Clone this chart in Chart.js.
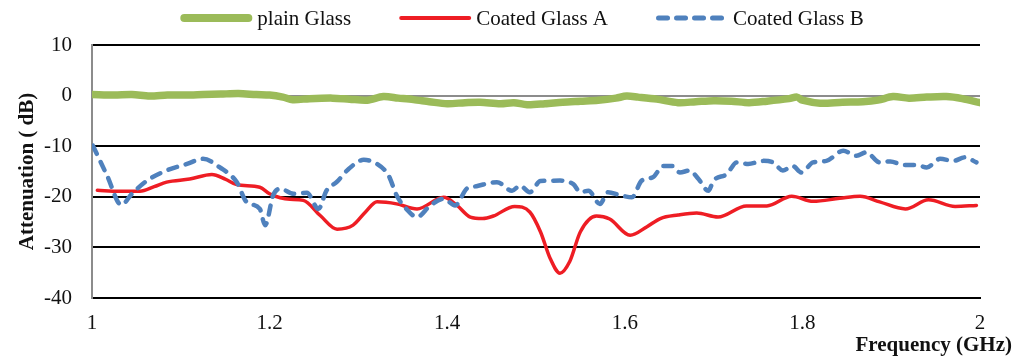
<!DOCTYPE html>
<html>
<head>
<meta charset="utf-8">
<title>Attenuation vs Frequency</title>
<script src="https://cdn.jsdelivr.net/npm/chart.js@4.4.1/dist/chart.umd.min.js"></script>
<style>
  html, body { margin: 0; padding: 0; background: #fff; }
  #wrap { width: 1014px; height: 358px; }
</style>
</head>
<body>
<div id="wrap"><canvas id="c" width="1014" height="358"></canvas></div>
<script>
// Frequency ticks (GHz) and attenuation ticks (dB)
const xTicks = [1, 1.2, 1.4, 1.6, 1.8, 2];
const yTicks = [10, 0, -10, -20, -30, -40];

// plain Glass
const plainFreq = [1.000,1.025,1.045,1.065,1.085,1.105,1.125,1.145,1.165,1.185,1.200,1.215,1.226,1.245,1.271,1.290,1.310,1.328,1.345,1.362,1.380,1.400,1.420,1.437,1.460,1.475,1.490,1.510,1.530,1.550,1.570,1.590,1.602,1.615,1.636,1.660,1.680,1.700,1.720,1.740,1.760,1.785,1.794,1.800,1.820,1.845,1.868,1.885,1.902,1.920,1.940,1.962,1.980,2.000];
const plainAtt  = [0.2,0.1,0.2,-0.1,0.1,0.1,0.2,0.3,0.4,0.2,0.1,-0.3,-0.8,-0.6,-0.5,-0.7,-0.9,-0.2,-0.5,-0.8,-1.2,-1.6,-1.4,-1.3,-1.6,-1.4,-1.8,-1.6,-1.3,-1.1,-0.9,-0.5,-0.1,-0.3,-0.7,-1.4,-1.2,-1.0,-1.1,-1.4,-1.1,-0.6,-0.3,-0.9,-1.5,-1.3,-1.2,-0.9,-0.2,-0.5,-0.3,-0.2,-0.6,-1.4];

// Coated Glass A
const coatAFreq = [1.006,1.030,1.054,1.070,1.084,1.110,1.135,1.150,1.163,1.189,1.200,1.212,1.223,1.238,1.257,1.276,1.294,1.308,1.321,1.343,1.366,1.396,1.411,1.426,1.440,1.452,1.476,1.493,1.505,1.516,1.527,1.538,1.550,1.568,1.583,1.606,1.625,1.640,1.660,1.681,1.705,1.737,1.760,1.788,1.812,1.842,1.865,1.887,1.916,1.942,1.972,1.996];
const coatAAtt  = [-18.7,-18.9,-18.9,-18.0,-17.1,-16.5,-15.6,-16.5,-17.6,-18.1,-19.4,-20.2,-20.5,-20.7,-23.7,-26.4,-25.6,-23.0,-21.0,-21.4,-22.4,-20.1,-21.7,-24.0,-24.3,-23.8,-21.9,-23.0,-26.9,-32.2,-35.1,-32.8,-26.9,-23.8,-24.4,-27.6,-25.9,-24.3,-23.6,-23.2,-24.0,-21.8,-21.8,-19.9,-20.9,-20.3,-19.9,-21.0,-22.4,-20.6,-21.9,-21.7];

// Coated Glass B
const coatBFreq = [1.001,1.017,1.033,1.045,1.062,1.084,1.107,1.125,1.144,1.163,1.174,1.189,1.195,1.204,1.212,1.227,1.242,1.255,1.264,1.276,1.289,1.306,1.321,1.334,1.343,1.354,1.366,1.381,1.396,1.409,1.422,1.433,1.456,1.473,1.482,1.493,1.505,1.527,1.542,1.550,1.559,1.572,1.581,1.595,1.608,1.619,1.632,1.643,1.654,1.662,1.673,1.683,1.694,1.700,1.715,1.726,1.739,1.756,1.767,1.778,1.789,1.799,1.812,1.827,1.846,1.861,1.872,1.887,1.899,1.914,1.929,1.940,1.955,1.970,1.983,1.996];
const coatBAtt  = [-9.9,-15.8,-21.6,-19.4,-16.8,-14.8,-13.5,-12.5,-14.2,-17.1,-21.0,-22.4,-25.6,-19.7,-18.4,-19.4,-19.2,-22.4,-18.8,-17.0,-14.5,-12.7,-13.5,-15.8,-19.7,-22.4,-24.0,-21.7,-20.4,-21.7,-18.4,-17.9,-17.1,-18.8,-17.8,-19.1,-16.9,-16.8,-17.5,-19.1,-18.8,-21.4,-19.1,-19.7,-20.1,-16.8,-16.1,-13.9,-13.9,-15.2,-14.8,-16.5,-18.8,-16.8,-15.5,-13.2,-13.5,-12.9,-13.2,-14.8,-13.9,-15.2,-13.2,-12.9,-10.9,-11.9,-11.2,-13.2,-13.0,-13.7,-13.7,-14.2,-12.5,-12.9,-12.2,-13.2];

const pts = (xs, ys) => xs.map((x, i) => ({ x: x, y: ys[i] }));

const FONT = "'Liberation Serif', 'Times New Roman', serif";
const FS = 21;
Chart.defaults.font.family = FONT;
Chart.defaults.color = '#111';

// Legend row drawn above the plot: line sample followed by the series name
const topLegend = {
  id: 'topLegend',
  afterDraw(chart) {
    const ctx = chart.ctx;
    const sets = chart.data.datasets;
    const sample = 72, gapText = 5, gapItem = 48, cy = 18;
    ctx.save();
    ctx.font = FS + 'px ' + FONT;
    const widths = sets.map(d => sample + gapText + ctx.measureText(d.label).width);
    const total = widths.reduce((a, b) => a + b, 0) + gapItem * (sets.length - 1);
    let x = 522 - total / 2;
    sets.forEach((d, i) => {
      ctx.beginPath();
      ctx.lineWidth = d.legendWidth;
      ctx.strokeStyle = d.borderColor;
      ctx.lineCap = 'round';
      ctx.setLineDash(d.borderDash || []);
      ctx.moveTo(x + d.legendWidth / 2, cy);
      ctx.lineTo(x + sample - d.legendWidth / 2, cy);
      ctx.stroke();
      ctx.setLineDash([]);
      ctx.fillStyle = '#111';
      ctx.textBaseline = 'middle';
      ctx.textAlign = 'left';
      ctx.fillText(d.label, x + sample + gapText, cy + 1);
      x += widths[i] + gapItem;
    });
    // x-axis caption, right-aligned under the last tick
    ctx.font = 'bold ' + FS + 'px ' + FONT;
    ctx.textAlign = 'right';
    ctx.textBaseline = 'middle';
    ctx.fillText('Frequency (GHz)', 1012, 346);
    ctx.restore();
  }
};

new Chart(document.getElementById('c'), {
  type: 'line',
  data: {
    datasets: [
      {
        label: 'plain Glass',
        data: pts(plainFreq, plainAtt),
        borderColor: '#9BBB59',
        borderWidth: 7.5,
        legendWidth: 8,
        borderCapStyle: 'round',
        borderJoinStyle: 'round',
        pointRadius: 0,
        tension: 0.3,
        order: 3
      },
      {
        label: 'Coated Glass A',
        data: pts(coatAFreq, coatAAtt),
        borderColor: '#EE1D24',
        borderWidth: 3.5,
        legendWidth: 4,
        borderCapStyle: 'round',
        pointRadius: 0,
        cubicInterpolationMode: 'monotone',
        order: 2
      },
      {
        label: 'Coated Glass B',
        data: pts(coatBFreq, coatBAtt),
        borderColor: '#4F81BD',
        borderWidth: 4.5,
        legendWidth: 5,
        borderDash: [9, 9],
        borderCapStyle: 'round',
        pointRadius: 0,
        cubicInterpolationMode: 'monotone',
        order: 1
      }
    ]
  },
  options: {
    responsive: false,
    animation: false,
    layout: { padding: { top: 45, right: 34, left: 0, bottom: 0 } },
    plugins: {
      legend: { display: false },
      tooltip: { enabled: false }
    },
    scales: {
      x: {
        type: 'linear',
        min: xTicks[0],
        max: xTicks[xTicks.length - 1],
        afterBuildTicks: s => { s.ticks = xTicks.map(v => ({ value: v })); },
        afterFit: s => { s.height = 60; },
        grid: { display: false, drawTicks: false },
        border: { display: true, color: '#000', width: 2 },
        ticks: {
          padding: 13,
          font: { size: FS },
          color: '#111',
          maxRotation: 0,
          callback: v => String(v)
        }
      },
      y: {
        min: yTicks[yTicks.length - 1],
        max: yTicks[0],
        afterBuildTicks: s => { s.ticks = yTicks.slice().reverse().map(v => ({ value: v })); },
        afterFit: s => { s.width = 92; },
        grid: {
          drawTicks: false,
          lineWidth: 2,
          color: c => (c.tick && c.tick.value === 0 ? '#8C8C8C' : '#000')
        },
        border: { display: true, color: '#8C8C8C', width: 2 },
        ticks: {
          padding: 20,
          font: { size: FS },
          color: '#111',
          callback: v => String(v)
        },
        title: {
          display: true,
          text: 'Attenuation ( dB)',
          font: { size: FS, weight: 'bold' },
          color: '#111',
          padding: { top: 15, bottom: 0 }
        }
      }
    }
  },
  plugins: [topLegend]
});
</script>
</body>
</html>
